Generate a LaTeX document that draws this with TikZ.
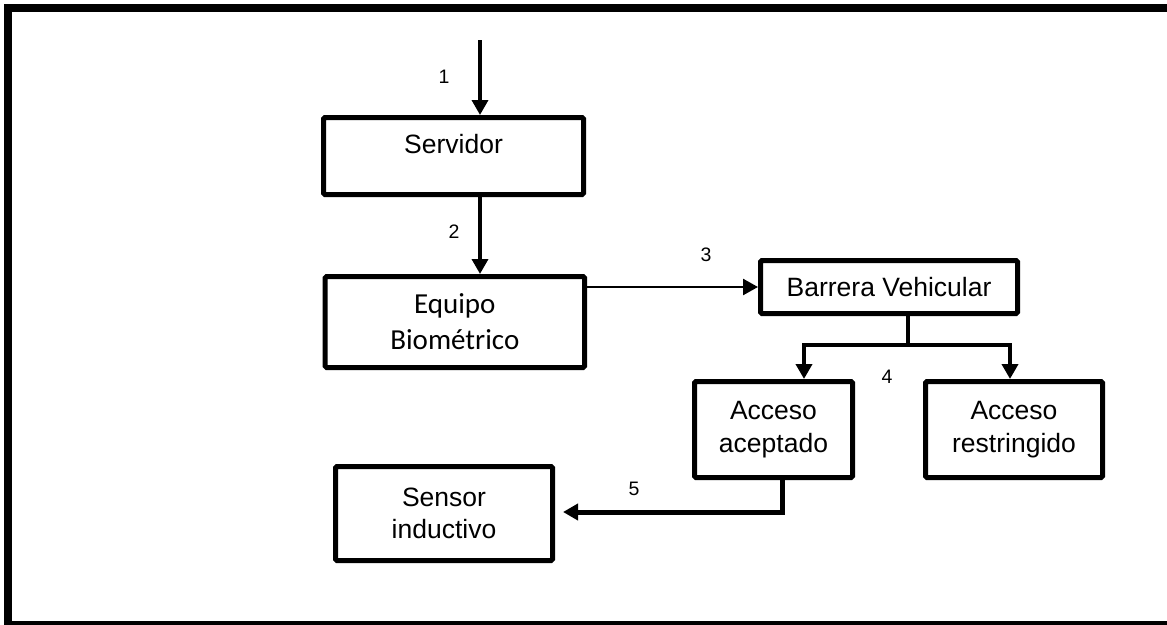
\documentclass[tikz,border=0pt]{standalone}
\usepackage{fontspec}
\setmainfont{Liberation Sans}
\newfontfamily\carlitofont{Carlito}
\usetikzlibrary{arrows.meta}
\begin{document}
\begin{tikzpicture}[x=1pt,y=-1pt,
  box/.style={draw, line width=5pt, rounded corners=1.5pt, inner sep=0pt,
    align=center, font=\fontsize{26.5}{32.5}\selectfont},
  num/.style={inner sep=0pt, font=\fontsize{19.5}{22}\selectfont},
  tip/.style={-{Triangle[width=16pt,length=15pt]}},
  link/.style={tip, line width=3.5pt},
  thinlink/.style={tip, line width=2.5pt},
  branch/.style={tip, line width=4pt},
  heavylink/.style={tip, line width=5pt, line join=miter}]
\useasboundingbox (0,0) rectangle (1167,624);
\clip (0,0) rectangle (1167,624);
% outer frame
\draw[line width=8pt] (8,8) rectangle (1170.5,625);

% blocks
\node[box, minimum width=260pt, minimum height=77pt,
      text height=19pt, text depth=25pt] (srv) at (453.5,156) {Servidor};
\node[box, minimum width=259.5pt, minimum height=91pt,
      font=\carlitofont\fontsize{29}{36}\selectfont] (eq) at (454.8,322) {Equipo\\Biométrico};
\node[box, minimum width=257pt, minimum height=53pt] (bar) at (889,287) {Barrera Vehicular};
\node[box, minimum width=158pt, minimum height=96pt] (acep) at (773.5,429.5) {Acceso\\aceptado};
\node[box, minimum width=177pt, minimum height=96pt] (rest) at (1014,429.5) {Acceso\\restringido};
\node[box, minimum width=217pt, minimum height=94pt] (sen) at (444,513.5) {Sensor\\inductivo};

% step numbers
\node[num] (n1) at (444,77) {1};
\node[num] (n2) at (454,232) {2};
\node[num] (n3) at (706,255) {3};
\node[num] (n4) at (887,377) {4};
\node[num] (n5) at (634,489) {5};

% routing points
\coordinate (in1) at (480,40);
\coordinate (split) at (908,345);
\coordinate (j4l) at (804,345);
\coordinate (j4r) at (1010,345);
\coordinate (c5) at (782,512);

% connectors
\draw[link] (in1) -- (in1 |- srv.north);
\draw[link] (srv.south -| in1) -- (eq.north -| in1);
\draw[thinlink] (eq.east |- bar.west) -- (bar.west);
\draw[line width=4pt] (bar.south -| split) -- (split);
\draw[branch] (split) -- (j4l) -- (j4l |- acep.north);
\draw[branch] (split) -- (j4r) -- (j4r |- rest.north);
\draw[heavylink, shorten >=8pt] (acep.south -| c5) -- (c5) -- (c5 -| sen.east);
\end{tikzpicture}
\end{document}
